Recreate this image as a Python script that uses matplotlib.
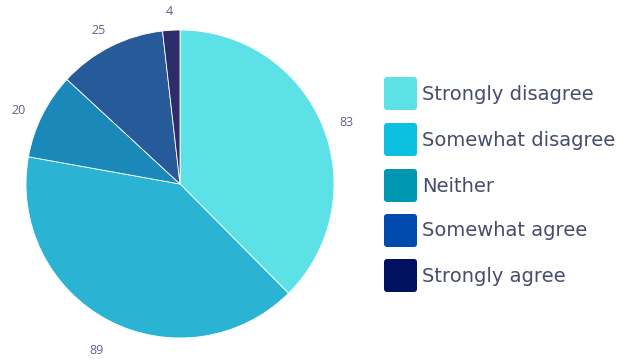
import matplotlib
matplotlib.use("Agg")
import matplotlib.pyplot as plt
from matplotlib.patches import FancyBboxPatch
from matplotlib.transforms import offset_copy

categories = ["Strongly disagree", "Somewhat disagree", "Neither",
              "Somewhat agree", "Strongly agree"]
counts = [83, 89, 20, 25, 4]
slice_colors = ["#5ce1e6", "#2bb3d4", "#1a88b8", "#265a98", "#2c2c6a"]
legend_colors = ["#5ce1e6", "#0cc0df", "#0097b2", "#004aad", "#001161"]

plt.rcParams["font.family"] = ["Open Sans", "DejaVu Sans"]

fig = plt.figure(figsize=(6.24, 3.60), dpi=100)

# pie: centre ~ (180,184) px, radius ~154 px
ax = fig.add_axes([(180 - 154) / 624, (360 - 184 - 154) / 360, 308 / 624, 308 / 360])
wedges, texts = ax.pie(counts, colors=slice_colors, startangle=90, counterclock=False,
                       labels=[str(c) for c in counts], labeldistance=1.17,
                       wedgeprops=dict(linewidth=0.6, edgecolor="white"),
                       textprops=dict(color="#5d6282", fontsize=9))
label_shift = offset_copy(ax.transData, fig=fig, x=0, y=-7, units="dots")
for t in texts:
    t.set_ha("center")
    t.set_transform(label_shift)
ax.set_aspect("equal")
ax.set_xlim(-1, 1)
ax.set_ylim(-1, 1)

# legend drawn in figure pixel space
lax = fig.add_axes([0, 0, 1, 1])
lax.set_xlim(0, 624)
lax.set_ylim(360, 0)
lax.axis("off")
row_y = [93, 139, 185, 230, 275]
for cat, col, y in zip(categories, legend_colors, row_y):
    box = FancyBboxPatch((384, y - 16), 33, 33, boxstyle="round,pad=0,rounding_size=3",
                         facecolor=col, edgecolor="none")
    lax.add_patch(box)
    lax.text(422, y + 1, cat, ha="left", va="center", fontsize=14,
             family="DejaVu Sans", color="#464c6c")

fig.savefig("out.png", dpi=100, facecolor="white")
